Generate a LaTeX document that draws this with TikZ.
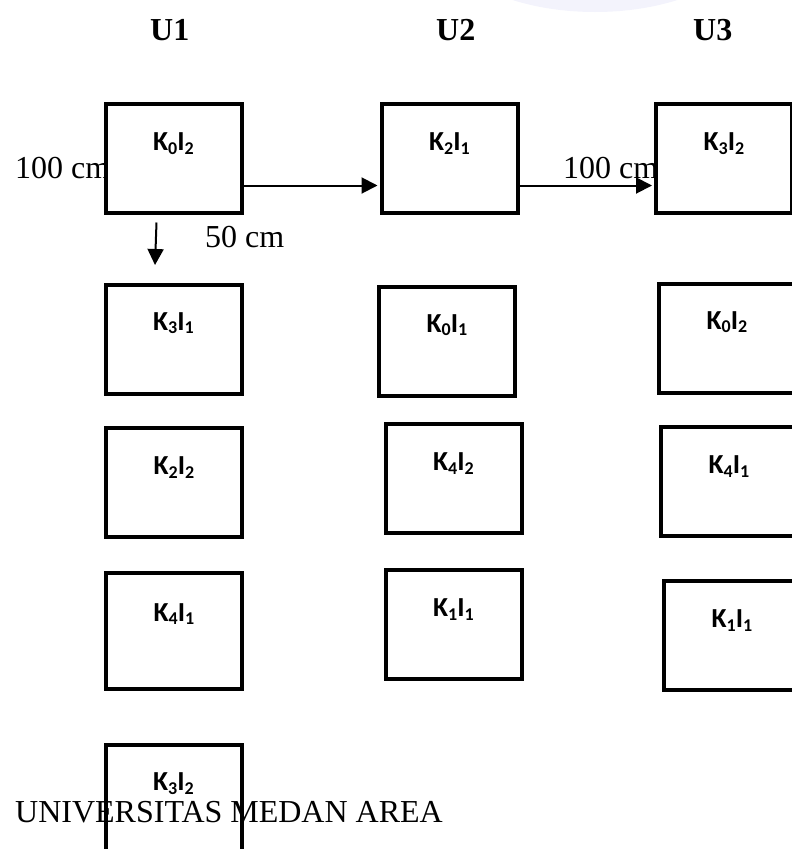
\documentclass[tikz,border=0pt]{standalone}
\usepackage{fontspec}
\setmainfont{Liberation Serif}
\newfontfamily\labfont{Carlito}
\usetikzlibrary{arrows.meta}
\newcommand{\KI}[2]{K\raisebox{-3.5pt}{\fontsize{18}{18}\selectfont #1}I\raisebox{-3.5pt}{\fontsize{18}{18}\selectfont #2}}
\tikzset{
  box/.style={draw=black, line width=4pt, fill=white, rectangle, minimum width=136pt, minimum height=109pt, inner sep=0pt},
  lab/.style={anchor=base, inner sep=0pt, font=\labfont\bfseries\fontsize{27.5}{27.5}\selectfont},
  cmtext/.style={anchor=base west, inner sep=0pt, font=\fontsize{32}{32}\selectfont},
  head/.style={anchor=base west, inner sep=0pt, font=\bfseries\fontsize{32}{32}\selectfont},
  conn/.style={line width=2pt, -{Triangle[length=16pt,width=16pt]}}
}
\begin{document}
\begin{tikzpicture}[x=1pt,y=-1pt]
\useasboundingbox (0,0) rectangle (792,849);
\clip (0,0) rectangle (792,849);
\fill[fill={rgb,255:red,243;green,243;blue,252}] (595,-72) ellipse [x radius=160pt, y radius=84pt];
% headers
\node[head] (u1) at (150,40) {U1};
\node[head] (u2) at (436,40) {U2};
\node[head] (u3) at (693,40) {U3};
% distance labels under the boxes
\node[cmtext] (t1) at (15,178) {100 cm};
\node[cmtext] (t2) at (563,178) {100 cm};
% boxes
\node[box] (b1) at (173.5,158) {};
\node[box] (b2) at (449.5,158) {};
\node[box] (b3) at (724,158) {};
\node[box] (b4) at (173.5,339.5) {};
\node[box] (b5) at (447,341.5) {};
\node[box] (b6) at (727,338.5) {};
\node[box] (b7) at (174,482) {};
\node[box] (b8) at (453.5,478) {};
\node[box] (b9) at (729,481) {};
\node[box, minimum height=116pt] (b10) at (174,631) {};
\node[box] (b11) at (453.5,624) {};
\node[box] (b12) at (732,635) {};
\node[box, fill=none] (b13) at (173.5,799) {};
% box labels
\node[lab] (l1) at ([yshift=-49pt]b1.north) {\KI{0}{2}};
\node[lab] (l2) at ([yshift=-49pt]b2.north) {\KI{2}{1}};
\node[lab] (l3) at ([yshift=-49pt]b3.north) {\KI{3}{2}};
\node[lab] (l4) at ([yshift=-47pt]b4.north) {\KI{3}{1}};
\node[lab] (l5) at ([yshift=-47pt]b5.north) {\KI{0}{1}};
\node[lab] (l6) at ([yshift=-47pt]b6.north) {\KI{0}{2}};
\node[lab] (l7) at ([yshift=-49pt]b7.north) {\KI{2}{2}};
\node[lab] (l8) at ([yshift=-49pt]b8.north) {\KI{4}{2}};
\node[lab] (l9) at ([yshift=-49pt]b9.north) {\KI{4}{1}};
\node[lab] (l10) at ([yshift=-50pt]b10.north) {\KI{4}{1}};
\node[lab] (l11) at ([yshift=-49pt]b11.north) {\KI{1}{1}};
\node[lab] (l12) at ([yshift=-49pt]b12.north) {\KI{1}{1}};
\node[lab] (l13) at ([yshift=-48pt]b13.north) {\KI{3}{2}};
% connectors
\draw[conn, shorten >=2pt] ([yshift=29pt]b1.south east) -- ([yshift=29pt]b2.south west);
\draw[conn, shorten >=2pt] ([yshift=29pt]b2.south east) -- ([yshift=29pt]b3.south west);
\coordinate (d1) at (155,265);
\draw[conn] ([shift={(-17pt,-8pt)}]b1.south) -- (d1);
\node[cmtext] (t3) at (205,247) {50 cm};
\node[cmtext] (uni) at (15,822) {UNIVERSITAS MEDAN AREA};
\end{tikzpicture}
\end{document}
